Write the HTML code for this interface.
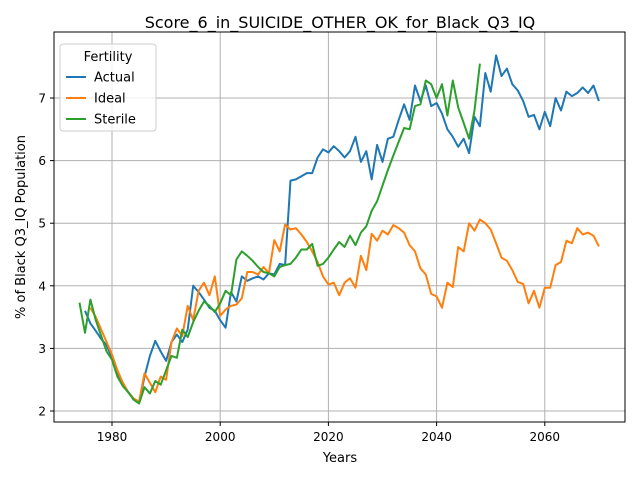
<!DOCTYPE html>
<html><head><meta charset="utf-8"><style>
body{margin:0;background:#fff;font-family:"DejaVu Sans","Liberation Sans",sans-serif;}
svg text{font-family:"DejaVu Sans","Liberation Sans",sans-serif;}
</style></head><body>
<svg id="chart" width="640" height="480" xmlns="http://www.w3.org/2000/svg">
<rect width="640" height="480" fill="#fff"/>
<g id="grid"></g>
<g id="series"></g>
<rect x="54" y="32" width="571" height="390" fill="none" stroke="#000" stroke-width="1"/>
<g id="ticks"></g>
<text x="340" y="28" text-anchor="middle" font-size="16">Score_6_in_SUICIDE_OTHER_OK_for_Black_Q3_IQ</text>
<text x="340" y="462" text-anchor="middle" font-size="13">Years</text>
<text transform="translate(25,227) rotate(-90)" text-anchor="middle" font-size="13">% of Black Q3_IQ Population</text>
<g>
<rect x="60" y="44" width="96" height="87" rx="3" fill="#fff" fill-opacity="0.8" stroke="#ccc"/>
<text x="108" y="61" text-anchor="middle" font-size="13">Fertility</text>
<g id="legend-items"></g>
</g>
</svg>
<script>
const actualStart = 1975;
const actual = [3.6,3.4,3.28,3.15,3.05,2.85,2.6,2.45,2.3,2.2,2.13,2.55,2.88,3.12,2.95,2.8,3.1,3.22,3.1,3.3,4.0,3.9,3.78,3.65,3.6,3.45,3.33,3.9,3.75,4.15,4.08,4.12,4.15,4.1,4.2,4.18,4.35,4.33,5.68,5.7,5.75,5.8,5.8,6.05,6.18,6.13,6.23,6.15,6.05,6.15,6.38,5.98,6.15,5.7,6.25,5.98,6.35,6.38,6.65,6.9,6.65,7.2,6.95,7.2,6.87,6.92,6.75,6.5,6.38,6.22,6.35,6.12,6.7,6.55,7.4,7.1,7.68,7.35,7.47,7.22,7.12,6.95,6.7,6.73,6.5,6.78,6.55,7.0,6.8,7.1,7.03,7.08,7.17,7.08,7.2,6.95];
const idealStart = 1976;
const ideal = [3.65,3.5,3.3,3.1,2.9,2.65,2.45,2.3,2.2,2.15,2.6,2.45,2.3,2.55,2.5,3.1,3.32,3.2,3.68,3.45,3.92,4.05,3.85,4.15,3.52,3.62,3.68,3.7,3.8,4.22,4.22,4.18,4.3,4.2,4.73,4.55,4.98,4.9,4.92,4.82,4.7,4.55,4.38,4.15,4.02,4.05,3.85,4.05,4.12,3.97,4.48,4.25,4.83,4.72,4.88,4.82,4.97,4.92,4.85,4.65,4.55,4.28,4.18,3.87,3.83,3.65,4.05,3.98,4.62,4.55,5.0,4.88,5.06,5.0,4.9,4.68,4.45,4.4,4.25,4.06,4.03,3.72,3.92,3.65,3.97,3.97,4.33,4.38,4.72,4.68,4.92,4.82,4.85,4.8,4.63];
const sterileStart = 1974;
const sterile = [3.73,3.25,3.78,3.45,3.2,2.95,2.82,2.55,2.4,2.3,2.18,2.12,2.38,2.28,2.48,2.42,2.65,2.88,2.85,3.3,3.18,3.42,3.6,3.75,3.68,3.58,3.72,3.92,3.85,4.42,4.55,4.48,4.4,4.3,4.22,4.2,4.15,4.3,4.33,4.35,4.45,4.58,4.58,4.67,4.32,4.35,4.45,4.58,4.7,4.62,4.8,4.65,4.85,4.95,5.2,5.35,5.6,5.85,6.08,6.3,6.52,6.5,6.87,6.9,7.28,7.22,7.0,7.22,6.72,7.28,6.85,6.6,6.35,6.8,7.55];
const xTicks = [1980,2000,2020,2040,2060];
const yTicks = [2,3,4,5,6,7];
const seriesNames = ["Actual","Ideal","Sterile"];

const X = yr => 112 + (yr-1980)*5.41;
const Y = v => 98 - (v-7)*62.6;
const NS="http://www.w3.org/2000/svg";
function mk(tag, attrs, parent){const e=document.createElementNS(NS,tag);for(const k in attrs)e.setAttribute(k,attrs[k]);parent.appendChild(e);return e;}
const grid=document.getElementById('grid'), ticks=document.getElementById('ticks'), ser=document.getElementById('series');
xTicks.forEach(t=>{
  const g=mk('line',{x1:X(t),x2:X(t),y1:32,y2:422,stroke:'#b0b0b0','stroke-width':1},grid);
  
  
  mk('line',{x1:X(t),x2:X(t),y1:422,y2:426,stroke:'#000'},ticks);
  const tx=mk('text',{x:X(t),y:441,'text-anchor':'middle','font-size':12},ticks);
  tx.textContent=t;
  
  
});
yTicks.forEach(t=>{
  const g=mk('line',{x1:54,x2:625,y1:Y(t),y2:Y(t),stroke:'#b0b0b0','stroke-width':1},grid);
  
  
  mk('line',{x1:50,x2:54,y1:Y(t),y2:Y(t),stroke:'#000'},ticks);
  const tx=mk('text',{x:46,y:Y(t)+4.5,'text-anchor':'end','font-size':12},ticks);
  tx.textContent=t;
  
  
});
const colors=['#1f77b4','#ff7f0e','#2ca02c'];
const data=[[actualStart,actual],[idealStart,ideal],[sterileStart,sterile]];
data.forEach((d,i)=>{
  const pts=d[1].map((v,j)=>X(d[0]+j).toFixed(1)+','+Y(v).toFixed(1)).join(' ');
  const p=mk('polyline',{points:pts,fill:'none',stroke:colors[i],'stroke-width':2,'stroke-linejoin':'round'},ser);
  
  
});
const li=document.getElementById('legend-items');
seriesNames.forEach((n,i)=>{
  const y=77+i*21;
  mk('line',{x1:66,x2:86,y1:y,y2:y,stroke:colors[i],'stroke-width':2},li);
  const t=mk('text',{x:94,y:y+4.5,'font-size':13},li);
  t.textContent=n;
  
  
});
</script>
</body></html>
